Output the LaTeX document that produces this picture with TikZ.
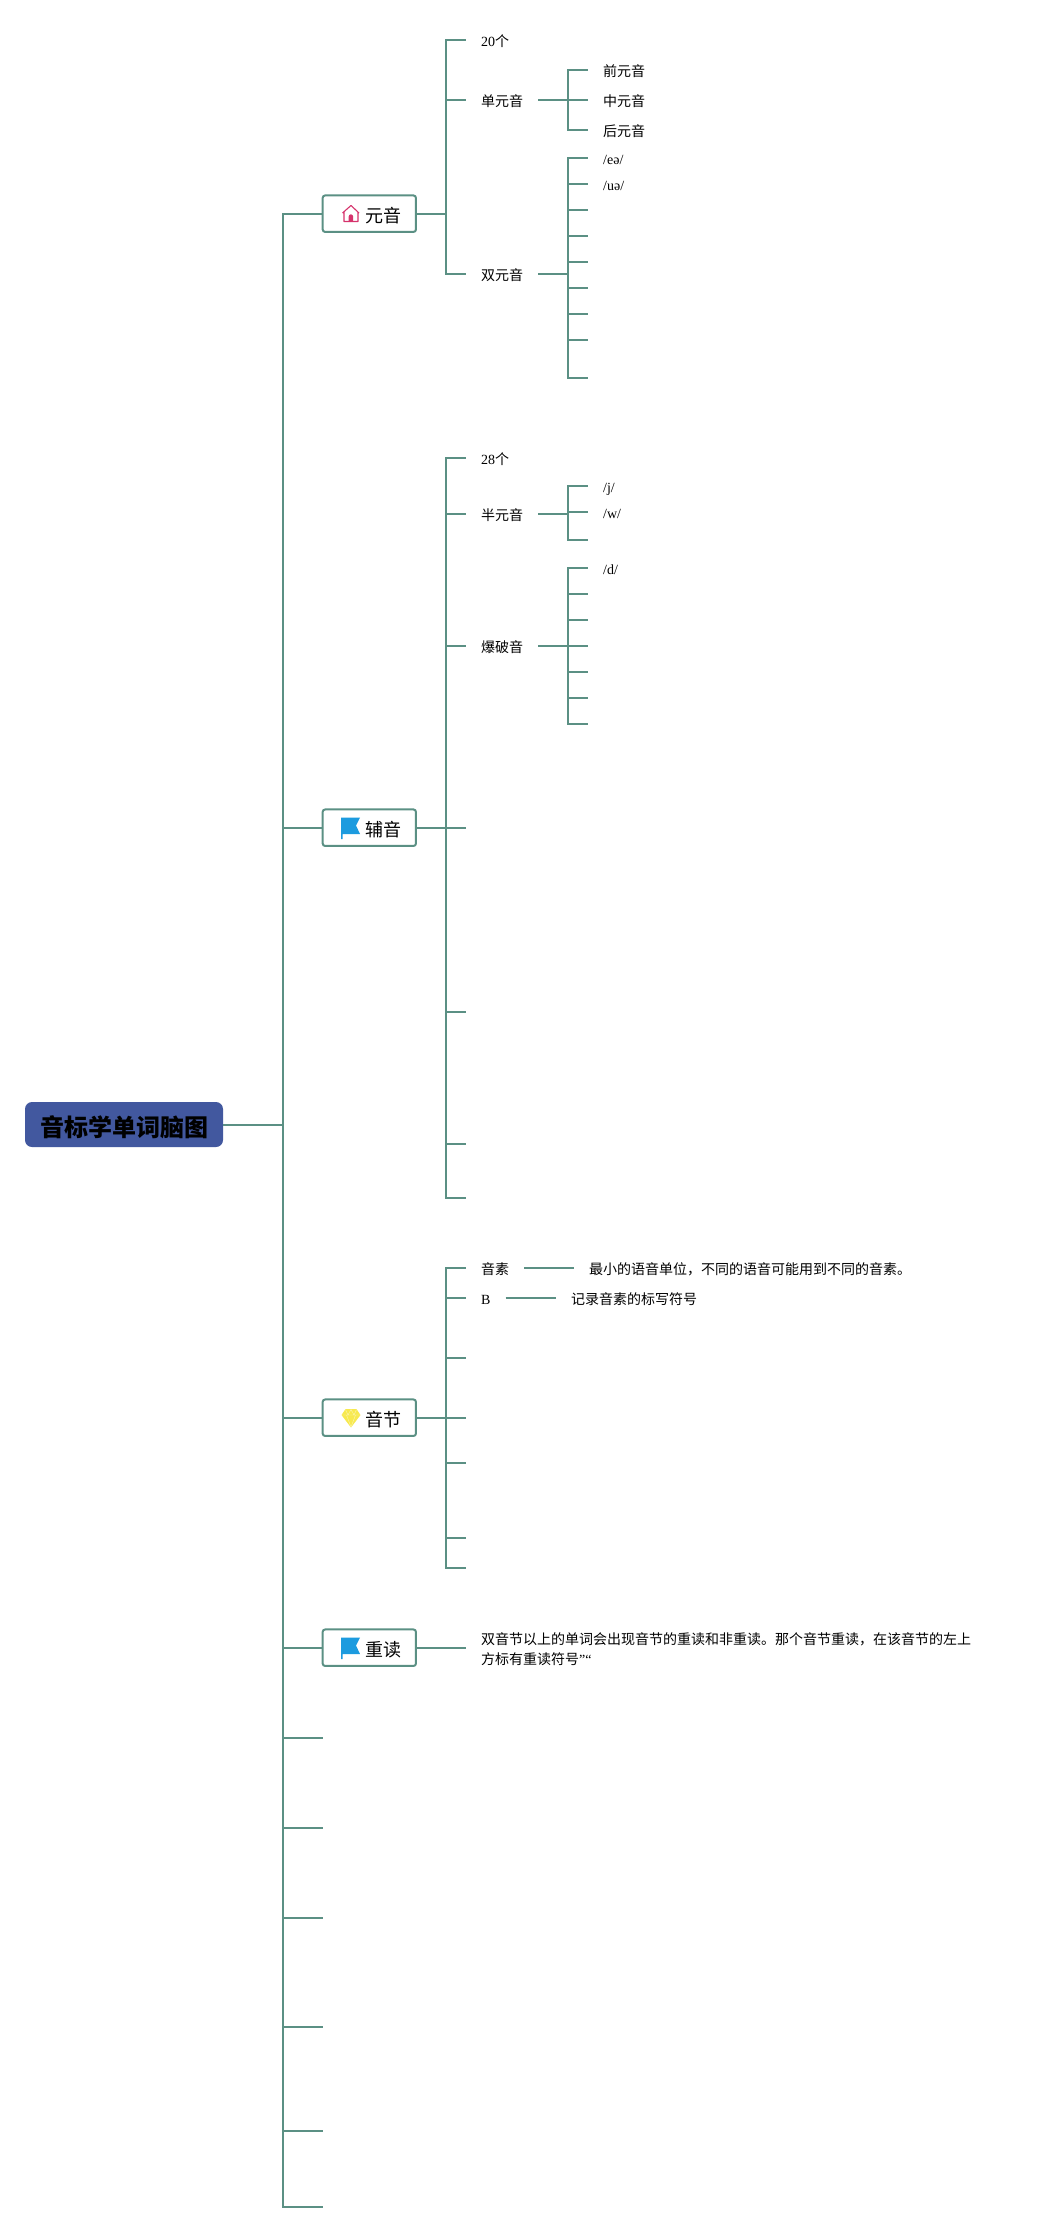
\documentclass[tikz,border=0pt]{standalone}
\usepackage{fontspec}
\setmainfont{Liberation Serif}
\newfontfamily\cjk{Noto Sans CJK SC}
\definecolor{linkc}{HTML}{5B9084}
\definecolor{rootc}{HTML}{42589F}
\definecolor{homec}{HTML}{D6336C}
\definecolor{flagc}{HTML}{1C9BDF}
\definecolor{gemc}{HTML}{F7E94F}
\tikzset{
  conn/.style={draw=linkc,line width=2pt,line cap=butt,line join=miter},
  rootbox/.style={draw=none,fill=rootc,rounded corners=7pt,minimum width=198pt,minimum height=45pt,inner sep=0pt,
    text height=27.5pt,text depth=3pt,font=\fontsize{24}{28}\selectfont\cjk\bfseries,text=black},
  mainbox/.style={draw=linkc,line width=2pt,fill=white,rounded corners=2.5pt,minimum width=93.3pt,minimum height=36.5pt,inner sep=0pt,
    text height=19pt,text depth=2.2pt,font=\fontsize{18}{22}\selectfont\cjk,text=black},
  subnode/.style={anchor=west,inner ysep=0pt,inner xsep=15pt,text height=15.3pt,text depth=2.5pt,font=\fontsize{14}{20}\selectfont,text=black},
  longnode/.style={anchor=west,inner ysep=0pt,inner xsep=15pt,align=left,font=\fontsize{14}{20}\selectfont,text=black},
}
\newcommand{\boxlabel}[1]{\hspace*{28.7pt}#1}
\newcommand{\elbow}[3]{\draw[conn] (#1) -- (#1 -| #2) |- (#3);}
\newcommand{\flagicon}[1]{\fill[flagc] (341,#1-10.2) -- (360,#1-10.2) -- (356,#1-2.2) -- (360,#1+6.3) -- (342.5,#1+6.3) -- (342.5,#1+11.3) -- (341,#1+11.3) -- cycle;}
\begin{document}
\begin{tikzpicture}[x=1pt,y=-1pt]
\useasboundingbox (0,0) rectangle (1041,2232);
% spine positions
\coordinate (sa) at (283,0);
\coordinate (sb) at (445.7,0);
\coordinate (sc) at (567.7,0);

% root and main topics
\node[rootbox] (root) at (124,1124.5) {音标学单词脑图};
\node[mainbox] (yuan) at (369.3,213.7) {\boxlabel{元音}};
\node[mainbox] (fu) at (369.3,827.7) {\boxlabel{辅音}};
\node[mainbox] (jie) at (369.3,1417.7) {\boxlabel{音节}};
\node[mainbox] (zhong) at (369.3,1647.7) {\boxlabel{重读}};
\foreach \n/\y in {ma/1737.7,mb/1827.5,mc/1917.5,md/2027,me/2131,mf/2206.5}{\coordinate (\n) at (323,\y);}

\draw[conn] (root.east) -- (root.east -| sa);
\foreach \c in {yuan,fu,jie,zhong}{
  \draw[conn] (root.east -| sa) |- (\c.west);
}
\foreach \c in {ma,mb,mc,md,me,mf}{
  \draw[conn] (root.east -| sa) |- (\c);
}

% vowels
\node[subnode] (y1) at (466,40) {20{\cjk 个}};
\node[subnode] (y2) at (466,100) {\cjk 单元音};
\node[subnode] (y3) at (466,274) {\cjk 双元音};
\foreach \c in {y1,y2,y3}{\elbow{yuan.east}{sb}{\c.west}}
\node[subnode] (d1) at (588,70) {\cjk 前元音};
\node[subnode] (d2) at (588,100) {\cjk 中元音};
\node[subnode] (d3) at (588,130) {\cjk 后元音};
\foreach \c in {d1,d2,d3}{\elbow{y2.east}{sc}{\c.west}}
\node[subnode] (s1) at (588,158) {/eə/};
\node[subnode] (s2) at (588,184) {/uə/};
\foreach \n/\y in {s3/210,s4/236,s5/262,s6/288,s7/314,s8/340,s9/378}{\coordinate (\n) at (588,\y);}
\foreach \c in {s1.west,s2.west,s3,s4,s5,s6,s7,s8,s9}{\elbow{y3.east}{sc}{\c}}

% consonants
\node[subnode] (f1) at (466,458) {28{\cjk 个}};
\node[subnode] (f2) at (466,514) {\cjk 半元音};
\node[subnode] (f3) at (466,646) {\cjk 爆破音};
\foreach \n/\y in {f4/827.7,f5/1012,f6/1144,f7/1198}{\coordinate (\n) at (466,\y);}
\foreach \c in {f1.west,f2.west,f3.west,f4,f5,f6,f7}{\elbow{fu.east}{sb}{\c}}
\node[subnode] (b1) at (588,486) {/j/};
\node[subnode] (b2) at (588,512) {/w/};
\coordinate (b3) at (588,540);
\foreach \c in {b1.west,b2.west,b3}{\elbow{f2.east}{sc}{\c}}
\node[subnode] (p1) at (588,568) {/d/};
\foreach \n/\y in {p2/594,p3/620,p4/646,p5/672,p6/698,p7/724}{\coordinate (\n) at (588,\y);}
\foreach \c in {p1.west,p2,p3,p4,p5,p6,p7}{\elbow{f3.east}{sc}{\c}}

% syllables
\node[subnode] (j1) at (466,1268) {\cjk 音素};
\node[subnode] (j2) at (466,1297.7) {B};
\foreach \n/\y in {j3/1357.5,j4/1417.7,j5/1462.7,j6/1537.5,j7/1567.5}{\coordinate (\n) at (466,\y);}
\foreach \c in {j1.west,j2.west,j3,j4,j5,j6,j7}{\elbow{jie.east}{sb}{\c}}
\node[subnode] (j1t) at (574,1268) {\cjk 最小的语音单位，不同的语音可能用到不同的音素。};
\node[subnode] (j2t) at (556,1297.7) {\cjk 记录音素的标写符号};
\draw[conn] (j1.east) -- (j1t.west);
\draw[conn] (j2.east) -- (j2t.west);

% stress
\node[longnode] (z1) at (466,1649.5) {{\cjk 双音节以上的单词会出现音节的重读和非重读。那个音节重读，在该音节的左上}\\{\cjk 方标有重读符号}”“};
\draw[conn] (zhong.east) -- (z1.west |- zhong.east);

% icons
\draw[homec,line width=1.1pt,line join=round] (342.5,213) -- (351,205.5) -- (359,213) (344,212) -- (344,221.5) -- (358,221.5) -- (358,212);
\fill[homec] (348.7,221.5) -- (348.7,216.5) arc (180:0:2.2 and -2.2) -- (353.1,221.5) -- cycle;
\flagicon{827.7}
\flagicon{1647.7}
\fill[gemc] (345.5,1409) -- (356.5,1409) -- (360.5,1415) -- (351,1427.5) -- (341.5,1415) -- cycle;
\draw[white,opacity=.55,line width=0.4pt] (341.5,1415) -- (360.5,1415) (346.5,1415) -- (351,1427) -- (355.5,1415) (345.5,1409.5) -- (348,1415) -- (351,1409.5) -- (354,1415) -- (356.5,1409.5);
\end{tikzpicture}
\end{document}
